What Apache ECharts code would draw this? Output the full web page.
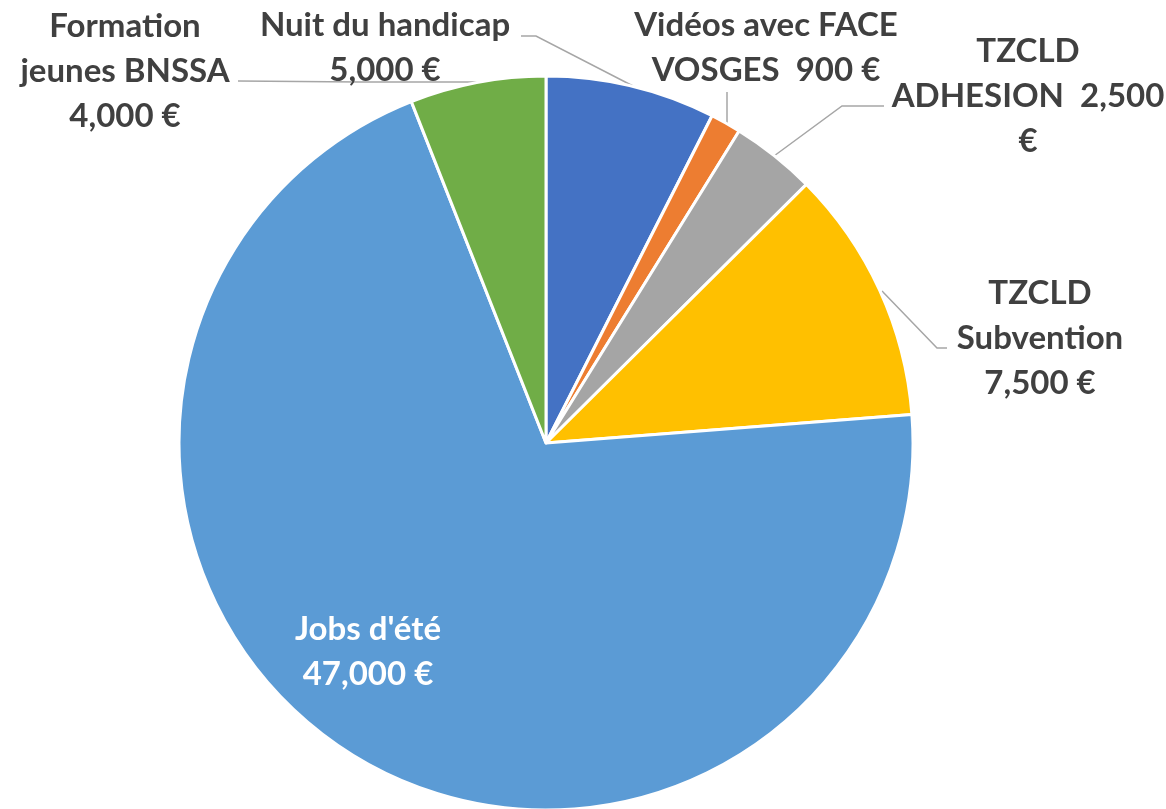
<!DOCTYPE html>
<html>
<head>
<meta charset="utf-8">
<script src="https://cdn.jsdelivr.net/npm/echarts@6/dist/echarts.min.js"></script>
<style>
  html, body { margin: 0; padding: 0; background: #fff; }
  #main { width: 1166px; height: 809px; }
</style>
</head>
<body>
<div id="main"></div>
<script>
// données du graphique
var categories = ['Nuit du handicap', 'Vidéos avec FACE\nVOSGES', 'TZCLD\nADHESION', 'TZCLD\nSubvention', "Jobs d'été", 'Formation\njeunes BNSSA'];
var values = [5000, 900, 2500, 7500, 47000, 4000];
var separators = ['\n', '  ', '  ', '\n', '\n', '\n'];
var suffixes = [' €', ' €', '\n€', ' €', ' €', ' €'];
var colors = ['#4472C4', '#ED7D31', '#A5A5A5', '#FFC000', '#5B9BD5', '#70AD47'];

// position des étiquettes (comme dans le classeur)
var labelPos = [[385, 48], [766, 48], [1028, 96], [1040, 338], [368, 652], [125, 71]];
var linePts = [
    [[633, 86], [536, 36], [521, 36]],
    [[727, 123], [727, 108], [727, 92]],
    [[774, 156], [842, 106], [884, 106]],
    [[882, 291], [937, 348], [947, 348]],
    null,
    [[478, 82], [360, 82], [238, 81]]
];

function fmt(v) {
    return v.toString().replace(/\B(?=(\d{3})+(?!\d))/g, ',');
}

var pieData = [];
for (var i = 0; i < values.length; i++) {
    var d = { name: categories[i], value: values[i], itemStyle: { color: colors[i] } };
    if (i == 4) {
        d.label = { position: 'inside', color: '#fff' };
        d.labelLine = { show: false };
    }
    pieData.push(d);
}

var myChart = echarts.init(document.getElementById('main'));
myChart.setOption({
    animation: false,
    series: [{
        type: 'pie',
        center: [546, 443],
        radius: 367,
        startAngle: 90,
        clockwise: true,
        data: pieData,
        itemStyle: { borderColor: '#fff', borderWidth: 3 },
        label: {
            show: true,
            position: 'outside',
            color: '#404040',
            fontFamily: 'Lato',
            fontWeight: 'bold',
            fontSize: 33,
            lineHeight: 45,
            align: 'center',
            overflow: 'none',
            formatter: function (p) {
                var idx = p.dataIndex;
                return p.name + separators[idx] + fmt(p.value) + suffixes[idx];
            }
        },
        labelLine: {
            show: true,
            lineStyle: { color: '#A6A6A6', width: 1.5 }
        },
        labelLayout: function (params) {
            var idx = params.dataIndex;
            var res = {
                x: labelPos[idx][0],
                y: labelPos[idx][1],
                align: 'center',
                verticalAlign: 'middle',
                width: 400
            };
            if (linePts[idx]) {
                res.labelLinePoints = linePts[idx];
            }
            return res;
        }
    }]
});
</script>
</body>
</html>
